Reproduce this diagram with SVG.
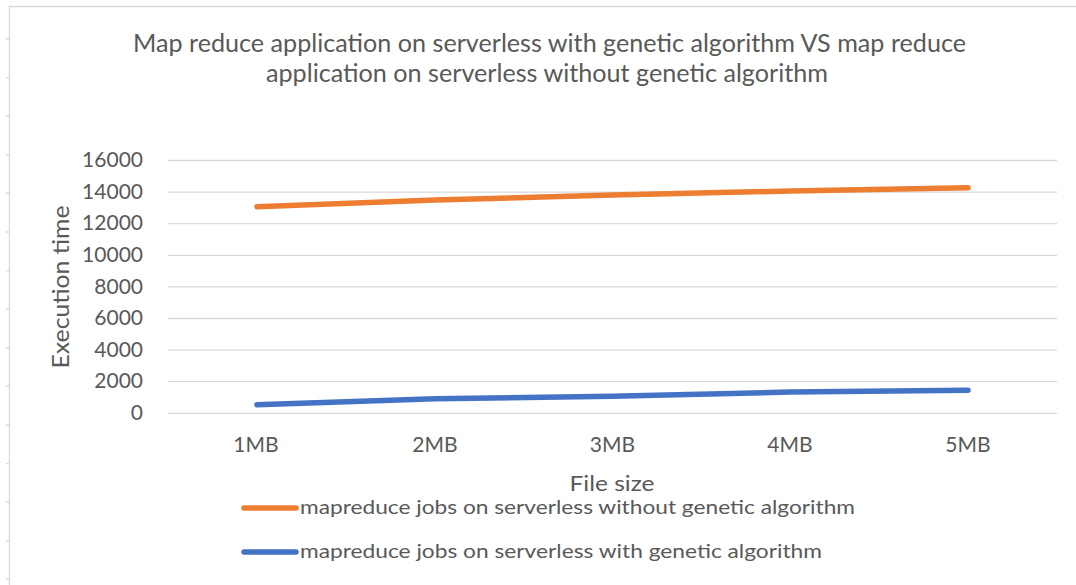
<svg xmlns="http://www.w3.org/2000/svg" width="1076" height="585" viewBox="0 0 1076 585">
  <style>
    .txt { font-family: Lato, "Liberation Sans", Arial, sans-serif; fill: #595959; }
    .title { font-size: 25px; text-anchor: middle; }
    .tick { font-size: 21px; text-anchor: end; }
    .cat { font-size: 21px; text-anchor: middle; }
    .axis { font-size: 23px; text-anchor: middle; }
    .xaxis { font-size: 22px; text-anchor: middle; }
    .leg { font-size: 20px; }
    .grid { stroke: #d9d9d9; stroke-width: 1.3; fill: none; }
    .frame { stroke: #d9d9d9; stroke-width: 1.3; fill: none; }
    .series { fill: none; stroke-width: 5.5; stroke-linecap: round; stroke-linejoin: round; }
    .orange { stroke: #ed7d31; }
    .blue { stroke: #4472c4; }
  </style>

  <rect x="0" y="0" width="1076" height="585" fill="#ffffff"/>

  <!-- outer chart frame with small marks along the left edge -->
  <g id="frame">
    <path class="frame" d="M9.5 585 V6.5 H1076"/>
    <path class="frame" d="M6 39H9.5 M6 77.6H9.5 M6 116H9.5 M6 155H9.5 M6 193H9.5 M6 232H9.5 M6 270.6H9.5 M6 309H9.5 M6 348H9.5 M6 386H9.5 M6 425H9.5 M6 463.6H9.5 M6 502H9.5 M6 541H9.5 M6 579H9.5"/>
  </g>

  <g id="title">
    <text class="txt title" x="549.5" y="52" textLength="833" lengthAdjust="spacingAndGlyphs">Map reduce application on serverless with genetic algorithm VS map reduce</text>
    <text class="txt title" x="547" y="82" textLength="562" lengthAdjust="spacingAndGlyphs">application on serverless without genetic algorithm</text>
  </g>

  <!-- horizontal gridlines, 2000 apart -->
  <g id="gridlines">
    <path class="grid" d="M168 413.3H1057 M168 381.7H1057 M168 350.1H1057 M168 318.5H1057 M168 286.9H1057 M168 255.3H1057 M168 223.7H1057 M168 192.1H1057 M168 160.5H1057"/>
  </g>

  <g id="y-axis">
    <text class="txt tick" x="143" y="420">0</text>
    <text class="txt tick" x="143" y="388.4">2000</text>
    <text class="txt tick" x="143" y="356.8">4000</text>
    <text class="txt tick" x="143" y="325.2">6000</text>
    <text class="txt tick" x="143" y="293.6">8000</text>
    <text class="txt tick" x="143" y="262">10000</text>
    <text class="txt tick" x="143" y="230.4">12000</text>
    <text class="txt tick" x="143" y="198.8">14000</text>
    <text class="txt tick" x="143" y="167.2">16000</text>
    <text class="txt axis" transform="translate(69 287) rotate(-90)" x="0" y="0" textLength="163" lengthAdjust="spacingAndGlyphs">Execution time</text>
  </g>

  <g id="x-axis">
    <text class="txt cat" x="256" y="452">1MB</text>
    <text class="txt cat" x="435" y="452">2MB</text>
    <text class="txt cat" x="612.5" y="452">3MB</text>
    <text class="txt cat" x="790" y="452">4MB</text>
    <text class="txt cat" x="968" y="452">5MB</text>
    <text class="txt xaxis" x="612" y="491" textLength="85" lengthAdjust="spacingAndGlyphs">File size</text>
  </g>

  <g id="series">
    <polyline id="series-without-ga" class="series orange" points="257,206.7 435,200 612.5,195 790,191 968,187.8"/>
    <polyline id="series-with-ga" class="series blue" points="257,404.7 435,398.7 612.5,396.3 790,392 968,390.3"/>
  </g>

  <g id="legend">
    <line class="series orange" x1="244" y1="508" x2="296" y2="508"/>
    <text class="txt leg" x="300" y="514" textLength="555" lengthAdjust="spacingAndGlyphs">mapreduce jobs on serverless without genetic algorithm</text>
    <line class="series blue" x1="244" y1="552" x2="296" y2="552"/>
    <text class="txt leg" x="300" y="558" textLength="522" lengthAdjust="spacingAndGlyphs">mapreduce jobs on serverless with genetic algorithm</text>
  </g>
</svg>
